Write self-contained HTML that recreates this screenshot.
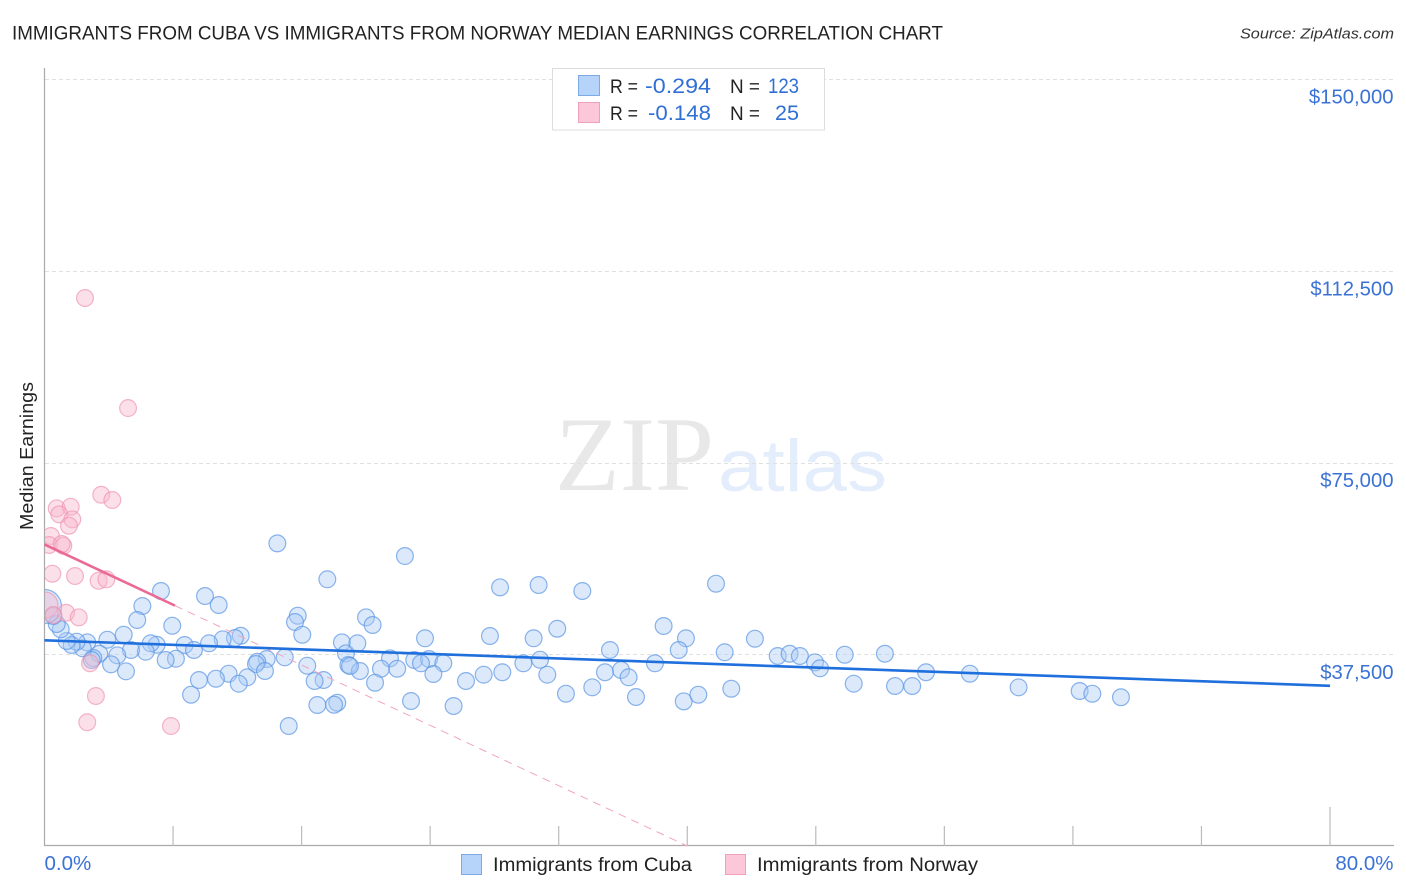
<!DOCTYPE html>
<html lang="en">
<head>
<meta charset="utf-8">
<title>Immigrants from Cuba vs Immigrants from Norway Median Earnings Correlation Chart</title>
<style>
html,body{margin:0;padding:0;background:#fff;width:1406px;height:892px;overflow:hidden}
svg{display:block;font-family:"Liberation Sans",sans-serif}
</style>
</head>
<body>
<svg id="chart" xmlns="http://www.w3.org/2000/svg" width="1406" height="892" viewBox="0 0 1406 892">
  <defs>
    <clipPath id="plot-clip"><rect x="45" y="60" width="1349" height="786"/></clipPath>
  </defs>
  <text x="12" y="39.5" font-size="19.5" fill="#222" textLength="931" lengthAdjust="spacingAndGlyphs">IMMIGRANTS FROM CUBA VS IMMIGRANTS FROM NORWAY MEDIAN EARNINGS CORRELATION CHART</text>
  <text x="1394" y="38.5" font-size="15" font-style="italic" fill="#333" text-anchor="end" textLength="154" lengthAdjust="spacingAndGlyphs">Source: ZipAtlas.com</text>

  <g>
    <text x="555" y="490" font-family="'Liberation Serif',serif" font-size="106" fill="#e8e8e8" textLength="159" lengthAdjust="spacingAndGlyphs">ZIP</text>
    <text x="718" y="491" font-size="73" fill="#e3edfb" textLength="169" lengthAdjust="spacingAndGlyphs">atlas</text>
  </g>

  <g id="grid"></g>
  <g id="axes"></g>
  <g id="marks" clip-path="url(#plot-clip)"></g>
  <g id="trends"></g>
  <g id="labels"></g>

  <text transform="translate(33,456) rotate(-90)" font-size="18.5" fill="#222" text-anchor="middle" textLength="148" lengthAdjust="spacingAndGlyphs">Median Earnings</text>

  <g>
    <rect x="552.5" y="68.5" width="272" height="61.5" fill="#fff" stroke="#dcdcdc" stroke-width="1"/>
    <rect x="578.5" y="75.5" width="21" height="20" fill="#b6d3f9" stroke="#7da9e4" stroke-width="1"/>
    <rect x="578.5" y="102.5" width="21" height="20" fill="#fcc7d8" stroke="#efa0ba" stroke-width="1"/>
    <text x="610" y="93" font-size="19" fill="#222" textLength="28" lengthAdjust="spacingAndGlyphs">R =</text>
    <text x="645" y="93" font-size="21.5" fill="#2f6fd6" textLength="66" lengthAdjust="spacingAndGlyphs">-0.294</text>
    <text x="730" y="93" font-size="19" fill="#222" textLength="30" lengthAdjust="spacingAndGlyphs">N =</text>
    <text x="768" y="93" font-size="21.5" fill="#2f6fd6" textLength="31" lengthAdjust="spacingAndGlyphs">123</text>
    <text x="610" y="120" font-size="19" fill="#222" textLength="28" lengthAdjust="spacingAndGlyphs">R =</text>
    <text x="648" y="120" font-size="21.5" fill="#2f6fd6" textLength="63" lengthAdjust="spacingAndGlyphs">-0.148</text>
    <text x="730" y="120" font-size="19" fill="#222" textLength="30" lengthAdjust="spacingAndGlyphs">N =</text>
    <text x="775" y="120" font-size="21.5" fill="#2f6fd6" textLength="24" lengthAdjust="spacingAndGlyphs">25</text>
  </g>

  <g>
    <rect x="461.5" y="854.5" width="20" height="20" fill="#b6d3f9" stroke="#7da9e4" stroke-width="1"/>
    <text x="493" y="871" font-size="19" fill="#222" textLength="199" lengthAdjust="spacingAndGlyphs">Immigrants from Cuba</text>
    <rect x="725.5" y="854.5" width="20" height="20" fill="#fcc7d8" stroke="#efa0ba" stroke-width="1"/>
    <text x="757" y="871" font-size="19" fill="#222" textLength="221" lengthAdjust="spacingAndGlyphs">Immigrants from Norway</text>
  </g>
</svg>
<script>
const cubaShare = [14.49,17.60,7.25,9.99,10.84,6.09,15.76,15.59,5.77,7.95,16.04,18.51,18.76,18.91,12.21,11.85,11.09,10.24,8.72,9.30,8.18,7.54,6.98,6.61,6.30,5.38,4.93,3.91,4.53,4.14,5.07,3.41,3.04,2.66,2.38,2.00,1.69,1.38,1.01,0.76,0.55,0,2.94,13.83,13.24,13.16,13.72,14.95,16.35,17.37,16.81,12.62,11.46,10.67,9.61,12.09,9.12,16.98,18.22,18.02,15.20,22.43,28.35,30.75,33.47,31.91,27.72,30.44,23.68,20.01,20.42,19.47,38.53,39.92,39.47,35.19,37.99,21.50,20.94,21.95,19.63,19.01,20.57,23.01,23.93,23.43,24.82,24.20,26.23,27.33,28.49,29.80,30.84,31.29,32.45,34.09,34.88,35.88,36.35,36.81,39.78,40.69,22.81,25.46,41.79,44.21,42.33,45.63,46.37,47.01,47.95,48.26,49.80,52.30,54.86,57.59,50.36,52.93,54.00,60.62,42.74,64.42,65.21,66.99];
const cubaEarnings = [59200,52170,49880,48900,47140,46940,45050,43810,44210,43090,41330,39840,37690,35400,41130,40680,40430,39650,39320,38340,36640,36380,39370,39650,38010,38340,41330,40350,37300,35540,34170,37610,36770,39840,38670,39960,39320,40100,42390,43420,44990,46850,36380,36580,36050,35600,34230,36910,35270,32470,32270,33000,33700,32720,32470,31750,29590,27580,28030,27640,23470,56720,50600,51050,49880,42500,41080,40630,40630,44730,43230,39650,43030,40630,38340,38340,35740,36710,34680,34680,34230,35210,31940,36380,36580,35740,35740,33640,32270,33510,33980,35740,36440,33510,29790,31040,33980,34430,33000,29140,28300,29590,28360,27380,51310,40550,37890,37160,37610,37160,35930,34760,37420,37610,33980,33700,31750,31300,31300,31040,30770,30320,29790,29090];
const norwayShare = [2.52,5.20,3.53,4.22,0.76,1.63,0.92,1.73,1.52,0.40,0.28,1.17,1.07,0.49,1.90,3.37,3.85,0.03,1.34,2.13,0.55,2.83,3.20,2.66,7.87];
const norwayEarnings = [107190,85670,68710,67680,66050,66370,64880,63900,62650,60640,58880,58740,59070,53260,52810,51890,52170,47140,45630,44730,45180,35740,29340,24200,23470];
const cubaLargeIndex = 41;
const norwayLargeIndex = 17;
const cubaTrendShare = [0,80];
const cubaTrendEarnings = [40240,31340];
const norwayTrendShare = [0,8.12];
const norwayTrendEarnings = [59000,47020];
const norwayDashShare = [8.12,40];
const norwayDashEarnings = [47020,0];
const yTickValues = [150000,112500,75000,37500];
const yTickLabels = ["$150,000","$112,500","$75,000","$37,500"];
const xTickValues = [0,8,16,24,32,40,48,56,64,72,80];
const xEndValues = [0,80];
const xEndLabels = ["0.0%","80.0%"];

const NS = "http://www.w3.org/2000/svg";
function xScale(v){ return 44.5 + v * (1330 - 44.5) / 80; }
function yScale(v){ return 846 - v * 191.7 / 37500; }
function make(tag, parent, props){
  const el = document.createElementNS(NS, tag);
  for (const k in props) el.setAttribute(k, props[k]);
  parent.appendChild(el);
  return el;
}
const grid = document.getElementById('grid');
const axes = document.getElementById('axes');
const marks = document.getElementById('marks');
const trends = document.getElementById('trends');
const labels = document.getElementById('labels');

yTickValues.forEach(function(v, i){
  const y = Math.round(yScale(v)) + 0.5;
  const line = make('line', grid, {x1:45, x2:1394, y1:y, y2:y, stroke:'#e0e0e0', 'stroke-width':1, 'stroke-dasharray':'4 3'});
  
  
  const t = make('text', labels, {x:1393.5, y:yScale(v) + 24.5, 'font-size':20.3, fill:'#3b72d6', 'text-anchor':'end'});
  t.textContent = yTickLabels[i];
  
  
});

const yAxisLine = make('line', axes, {x1:44.5, x2:44.5, y1:68, y2:846, stroke:'#aaa', 'stroke-width':1.2});


const xAxisLine = make('line', axes, {x1:44, x2:1394, y1:845.5, y2:845.5, stroke:'#aaa', 'stroke-width':1.2});


xTickValues.forEach(function(v, i){
  if (i === 0) return;
  const x = xScale(v);
  const top = i === xTickValues.length - 1 ? 807 : 826;
  const tick = make('line', axes, {x1:x, x2:x, y1:top, y2:846, stroke:'#bbb', 'stroke-width':1.2});
  
  
});
xEndValues.forEach(function(v, i){
  const t = make('text', labels, {x:i === 0 ? xScale(v) : 1393.5, y:870, 'font-size':20.5, fill:'#3b72d6', 'text-anchor':i === 0 ? 'start' : 'end'});
  t.textContent = xEndLabels[i];
  
  
});

cubaShare.forEach(function(v, i){
  const c = make('circle', marks, {cx:xScale(v), cy:yScale(cubaEarnings[i]), r:i === cubaLargeIndex ? 17 : 8.4, fill:'#a9cbf6', 'fill-opacity':0.42, stroke:'#5a94e2', 'stroke-opacity':0.7, 'stroke-width':1.2});
  
  
});
norwayShare.forEach(function(v, i){
  const c = make('circle', marks, {cx:xScale(v), cy:yScale(norwayEarnings[i]), r:i === norwayLargeIndex ? 13 : 8.4, fill:'#f9b4ca', 'fill-opacity':0.42, stroke:'#ee8fae', 'stroke-opacity':0.65, 'stroke-width':1.2});
  
  
});

const dash = make('line', trends, {x1:xScale(norwayDashShare[0]), y1:yScale(norwayDashEarnings[0]), x2:xScale(norwayDashShare[1]), y2:yScale(norwayDashEarnings[1]), stroke:'#f2a5bd', 'stroke-width':1, 'stroke-dasharray':'8 6'});


const norwayTrend = make('line', trends, {x1:xScale(norwayTrendShare[0]), y1:yScale(norwayTrendEarnings[0]), x2:xScale(norwayTrendShare[1]), y2:yScale(norwayTrendEarnings[1]), stroke:'#ea6a95', 'stroke-width':2.6});


const cubaTrend = make('line', trends, {x1:xScale(cubaTrendShare[0]), y1:yScale(cubaTrendEarnings[0]), x2:xScale(cubaTrendShare[1]), y2:yScale(cubaTrendEarnings[1]), stroke:'#1f6fdc', 'stroke-width':2.6});


</script>
</body>
</html>
